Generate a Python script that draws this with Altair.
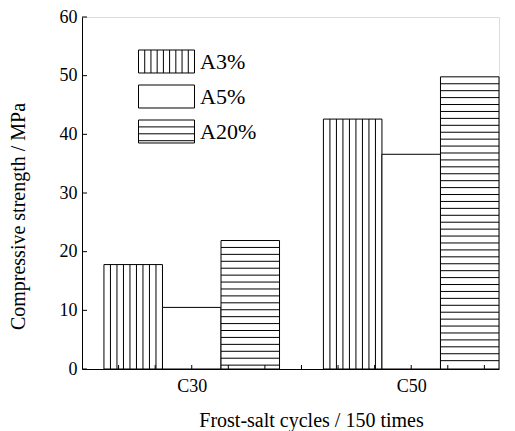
import json

import altair as alt
import numpy as np
import pandas as pd

# Compressive strength (MPa) after 150 frost-salt cycles
categories = ["C30", "C50"]
series = ["A3%", "A5%", "A20%"]
a3 = [17.8, 42.6]
a5 = [10.5, 36.6]
a20 = [21.9, 49.8]
y_ticks = [0, 10, 20, 30, 40, 50, 60]

FONT = "Liberation Serif"
W, H = 417, 352
GROUP = 0.8                      # width of a category group in x units
BAR = GROUP / len(series)        # width of one bar
HSTEP = 1.18                     # spacing of horizontal hatching (MPa)
NV = 9                           # vertical hatching divisions per bar

rows = []
for gi, cat in enumerate(categories):
    for si, (name, vals) in enumerate(zip(series, [a3, a5, a20])):
        left = gi - GROUP / 2 + si * BAR
        rows.append(dict(category=cat, series=name, value=vals[gi],
                         x0=left, x1=left + BAR, xc=left + BAR / 2))
bars = pd.DataFrame(rows)

# vertical hatching lines for the A3% bars
vrows = []
for r in bars[bars.series == "A3%"].itertuples():
    for k in range(1, NV):
        vrows.append(dict(x=r.x0 + k * BAR / NV, top=r.value))
vhatch = pd.DataFrame(vrows)

# horizontal hatching lines for the A20% bars, spaced down from the top
hrows = []
for r in bars[bars.series == "A20%"].itertuples():
    y = r.value - HSTEP
    while y > 0.4:
        hrows.append(dict(x0=r.x0, x1=r.x1, y=y))
        y -= HSTEP
hhatch = pd.DataFrame(hrows)

# inward minor ticks along the x axis
xticks = pd.DataFrame({"p": np.arange(-2, 9) / 6.0})
yticks = pd.DataFrame({"v": y_ticks})

# legend symbols: 56x23 boxes drawn as custom paths (unit = sqrt(size)/2)
hw, hh = 2.333, 0.958
box = f"M{-hw},{-hh}H{hw}V{hh}H{-hw}Z"
vlines = " ".join(f"M{-hw + k * 2 * hw / NV:.3f},{-hh}V{hh}" for k in range(1, NV))
hlines = " ".join(f"M{-hw},{-hh + k * 0.575:.3f}H{hw}" for k in range(1, 4))
paths = [box + " " + vlines, box, box + " " + hlines]

xs = alt.Scale(domain=[-0.5, 1.4], nice=False, zero=False)
ys = alt.Scale(domain=[0, 60], nice=False, zero=True)

label_expr = json.dumps(categories) + "[round(datum.value)]"

bar_layer = alt.Chart(bars).mark_rect(
    fill="white", stroke="black", strokeWidth=1
).encode(
    x=alt.X("x0:Q", scale=xs, title="Frost-salt cycles / 150 times",
            axis=alt.Axis(values=[0, 1], labelExpr=label_expr, ticks=False,
                          tickSize=0, labelPadding=8, grid=False,
                          labelFont=FONT, labelFontSize=18, labelColor="black",
                          titleFont=FONT, titleFontSize=20, titleColor="black",
                          titleFontWeight="normal",
                          domainColor="black", domainWidth=1,
                          titleX=229, titleY=51, titleAlign="center",
                          titleBaseline="middle")),
    x2="x1:Q",
    y=alt.Y("value:Q", scale=ys, title="Compressive strength / MPa",
            axis=alt.Axis(values=y_ticks, ticks=False, tickSize=0,
                          labelPadding=5, grid=False,
                          labelFont=FONT, labelFontSize=18, labelColor="black",
                          titleFont=FONT, titleFontSize=20, titleColor="black",
                          titleFontWeight="normal",
                          domainColor="black", domainWidth=1,
                          titleX=-64, titleY=199, titleAngle=-90,
                          titleAlign="center", titleBaseline="middle")),
    y2=alt.datum(0),
)

v_layer = alt.Chart(vhatch).mark_rule(color="black", strokeWidth=1).encode(
    x="x:Q", y="top:Q", y2=alt.datum(0)
)

h_layer = alt.Chart(hhatch).mark_rule(color="black", strokeWidth=1).encode(
    x="x0:Q", x2="x1:Q", y="y:Q"
)

xtick_layer = alt.Chart(xticks).mark_rule(color="black", strokeWidth=1).encode(
    x="p:Q", y=alt.value(H), y2=alt.value(H - 4)
)

ytick_layer = alt.Chart(yticks).mark_rule(color="black", strokeWidth=1).encode(
    y="v:Q", x=alt.value(0), x2=alt.value(5)
)

legend_layer = alt.Chart(bars).mark_point(
    filled=False, opacity=0, color="black"
).encode(
    x="xc:Q",
    y="value:Q",
    shape=alt.Shape(
        "series:N",
        scale=alt.Scale(domain=series, range=paths),
        legend=alt.Legend(
            title=None, orient="none", legendX=72, legendY=32, padding=0,
            symbolSize=576, symbolStrokeWidth=1, symbolStrokeColor="black",
            symbolOpacity=1, symbolFillColor="white",
            labelFont=FONT, labelFontSize=22, labelColor="black",
            labelOffset=21, rowPadding=8,
        ),
    ),
)

chart = alt.layer(
    bar_layer, v_layer, h_layer, xtick_layer, ytick_layer, legend_layer
).properties(
    width=W, height=H,
    padding={"left": 82, "top": 17, "right": 16, "bottom": 62},
    autosize=alt.AutoSizeParams(type="none"),
    background="white",
).configure_view(
    stroke=None
).configure(
    font=FONT
).configure_legend(
    labelFont=FONT
)

chart.save("out.html", embed_options={"renderer": "svg", "actions": False})
